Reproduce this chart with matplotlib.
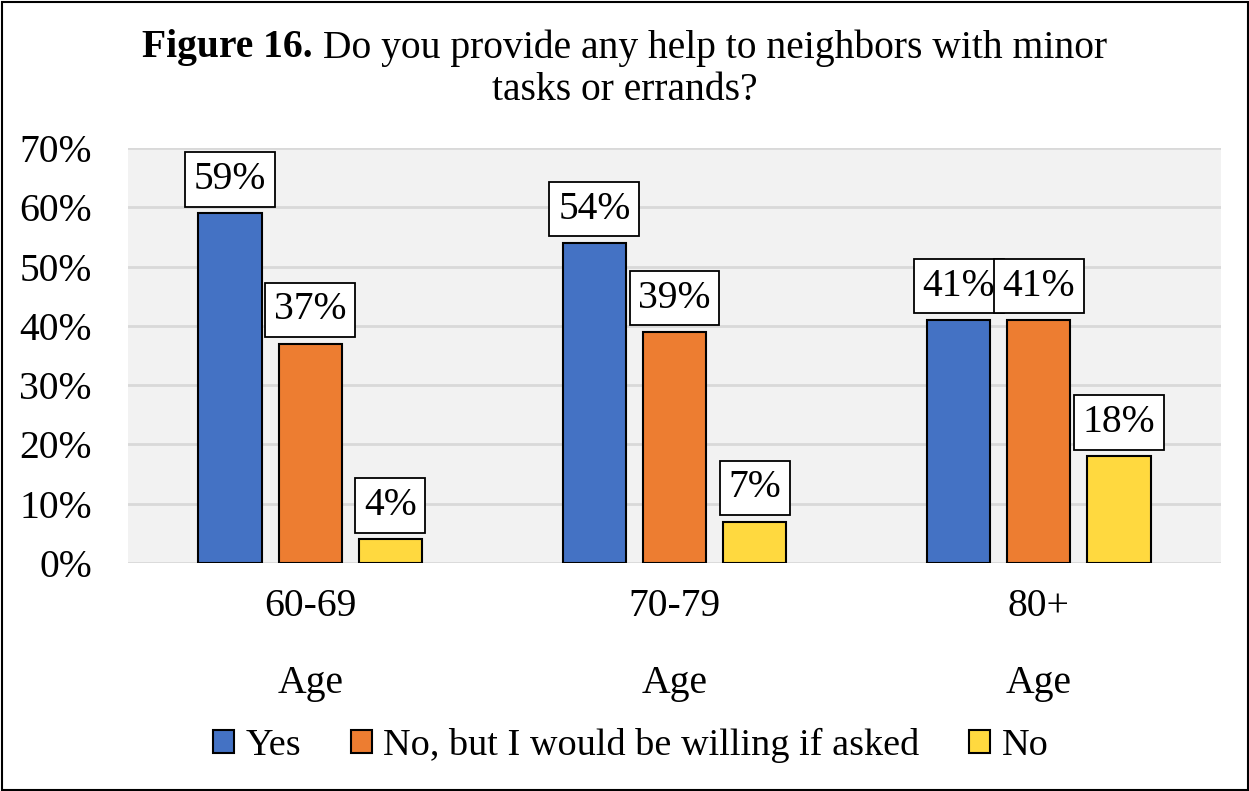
import matplotlib.pyplot as plt
from matplotlib.patches import Rectangle
from matplotlib.transforms import blended_transform_factory

plt.rcParams['font.family'] = ['Liberation Serif', 'DejaVu Serif']

groups = ["60-69", "70-79", "80+"]
series = ["Yes", "No, but I would be willing if asked", "No"]
values = [
    [0.59, 0.54, 0.41],
    [0.37, 0.39, 0.41],
    [0.04, 0.07, 0.18],
]
colors = ["#4472C4", "#ED7D31", "#FFD93F"]
yticks = [0, 0.1, 0.2, 0.3, 0.4, 0.5, 0.6, 0.7]

W, H = 1249, 791
fig = plt.figure(figsize=(W / 100, H / 100), dpi=100)
ax = fig.add_axes([128 / W, 1 - 563 / H, (1221 - 128) / W, (563 - 148) / H])
ax.set_facecolor("#F2F2F2")

fs = 28.5
width = 0.173
offsets = [-0.22, 0, 0.22]
for vals, off, col, name in zip(values, offsets, colors, series):
    xs = [i + off for i in range(len(groups))]
    bars = ax.bar(xs, vals, width, color=col, edgecolor="black", linewidth=1.5,
                  label=name, zorder=3)
    for b, v in zip(bars, vals):
        ax.annotate(f"{round(v * 100)}%", (b.get_x() + b.get_width() / 2, v),
                    xytext=(0, 11), textcoords="offset points",
                    ha="center", va="bottom", fontsize=fs, zorder=5,
                    bbox=dict(boxstyle="square,pad=0.22", fc="white",
                              ec="black", lw=1.3))

ax.set_xlim(-0.5, 2.5)
ax.set_ylim(0, 0.7)
ax.set_yticks(yticks)
ax.set_yticklabels([f"{round(t * 100)}%" for t in yticks], fontsize=fs)
ax.yaxis.grid(True, color="#D9D9D9", linewidth=2, zorder=0)
ax.set_axisbelow(True)
ax.tick_params(axis="y", length=0, pad=26)
ax.set_xticks([])
for s in ax.spines.values():
    s.set_visible(False)

# category labels with the "Age" line underneath
tr = blended_transform_factory(ax.transData, fig.transFigure)
for i, g in enumerate(groups):
    ax.text(i, 1 - 607 / H, g, transform=tr, ha="center", va="center", fontsize=fs)
    ax.text(i, 1 - 684 / H, "Age", transform=tr, ha="center", va="center", fontsize=fs)

# title: bold lead-in followed by regular text, centred as one line
y1 = 1 - 48 / H
t_bold = fig.text(0, y1, "Figure 16.", fontsize=fs, fontweight="bold", va="center")
t_rest = fig.text(0, y1, " Do you provide any help to neighbors with minor",
                  fontsize=fs, va="center")
fig.text(0.5, 1 - 90 / H, "tasks or errands?", fontsize=fs, ha="center", va="center")
r = fig.canvas.get_renderer()
wb = t_bold.get_window_extent(r).width
wr = t_rest.get_window_extent(r).width
x0 = (W - wb - wr) / 2
t_bold.set_x(x0 / W)
t_rest.set_x((x0 + wb) / W)

fig.legend(loc="center", bbox_to_anchor=(0.505, 1 - 745 / H), ncol=3,
           frameon=False, fontsize=27.5, handlelength=0.55, handleheight=0.55,
           handletextpad=0.3, columnspacing=1.3)

fig.patches.append(Rectangle((1.5 / W, 1.5 / H), 1 - 3 / W, 1 - 3 / H,
                             transform=fig.transFigure, fill=False,
                             ec="black", lw=1.5))

fig.savefig("out.png", dpi=100)
